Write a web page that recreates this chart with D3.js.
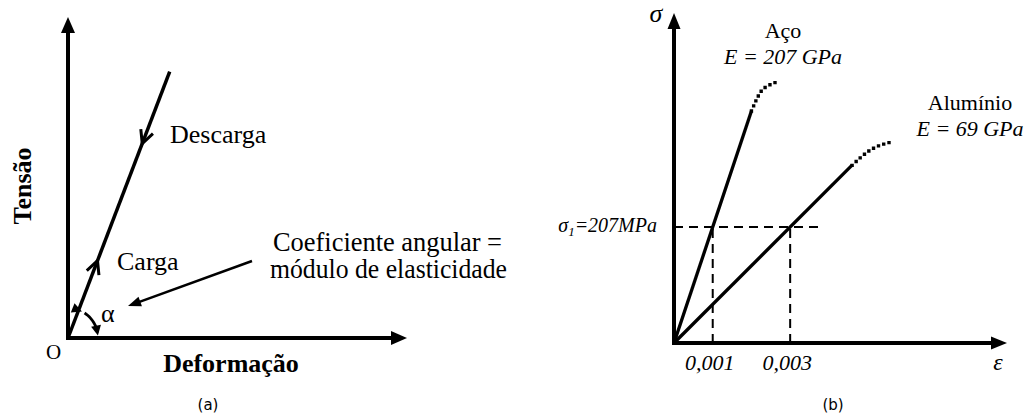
<!DOCTYPE html>
<html>
<head>
<meta charset="utf-8">
<script src="https://cdn.jsdelivr.net/npm/d3@7"></script>
<style>
  html, body { margin: 0; padding: 0; background: #fff; }
  svg { display: block; }
  text { fill: #000; }
</style>
</head>
<body>
<svg id="chart" width="1027" height="414"></svg>
<script>
// ---- Panel (a): loading / unloading along the elastic line (conceptual, unit domain)
const elasticLineA = [[0, 0], [0.30, 0.83]];        // strain, stress (normalised)
const loadArrowAt = 0.29;                            // fraction along the line, pointing up
const unloadArrowAt = 0.73;                          // fraction along the line, pointing down
const labelsA = { load: "Carga", unload: "Descarga", yTitle: "Tensão", xTitle: "Deformação",
                  slope1: "Coeficiente angular =", slope2: "módulo de elasticidade",
                  origin: "O", angle: "α", caption: "(a)" };

// ---- Panel (b): steel vs aluminium, stress in MPa against strain
const moduli = [207, 69];                            // GPa
const materials = ["Aço", "Alumínio"];
const linearStrain = [[0, 0.0020], [0, 0.0046]];     // end of the linear region
const steelPlastic = [[0.00200, 414], [0.00227, 451], [0.00243, 459], [0.00266, 466]];
const alumPlastic  = [[0.00460, 317], [0.00506, 344], [0.00563, 359]];
const sigma1 = 207;                                  // MPa
const strainTicks = [0.001, 0.003];
const strainTickLabels = ["0,001", "0,003"];
const maxStrainDash = 0.00377;

const svg = d3.select("#chart");
const serif = "'Liberation Serif', 'Times New Roman', serif";

function triangle(g, tip, dir, len, half) {
  // filled arrowhead with its tip at `tip`, pointing along unit vector `dir`
  const [dx, dy] = dir, px = -dy, py = dx;
  const bx = tip[0] - dx * len, by = tip[1] - dy * len;
  g.append("path")
    .attr("d", `M${tip[0]},${tip[1]}L${bx + px * half},${by + py * half}L${bx - px * half},${by - py * half}Z`)
    .attr("fill", "#000");
}

// ================= Panel (a) =================
const xA = d3.scaleLinear().domain([0, 1]).range([68, 407]);
const yA = d3.scaleLinear().domain([0, 1]).range([338, 17]);
const gA = svg.append("g");

// axes
gA.append("line").attr("x1", xA(0)).attr("y1", yA(0)).attr("x2", xA(0)).attr("y2", yA(1) + 12)
  .attr("stroke", "#000").attr("stroke-width", 4);
gA.append("line").attr("x1", xA(0) - 2).attr("y1", yA(0)).attr("x2", xA(1) - 12).attr("y2", yA(0))
  .attr("stroke", "#000").attr("stroke-width", 4);
triangle(gA, [xA(0), yA(1)], [0, -1], 16, 7);
triangle(gA, [xA(1), yA(0)], [1, 0], 16, 7);

// elastic line
const lineA = d3.line().x(d => xA(d[0])).y(d => yA(d[1]));
gA.append("path").attr("d", lineA(elasticLineA)).attr("fill", "none")
  .attr("stroke", "#000").attr("stroke-width", 3.5);

// chevrons on the line
const p0 = [xA(elasticLineA[0][0]), yA(elasticLineA[0][1])];
const p1 = [xA(elasticLineA[1][0]), yA(elasticLineA[1][1])];
const L = Math.hypot(p1[0] - p0[0], p1[1] - p0[1]);
const u = [(p1[0] - p0[0]) / L, (p1[1] - p0[1]) / L];
function chevron(t, sign) {
  const tip = [p0[0] + (p1[0] - p0[0]) * t, p0[1] + (p1[1] - p0[1]) * t];
  const d = [u[0] * sign, u[1] * sign], n = [-d[1], d[0]];
  const back = 13, half = 6.5;
  const a = [tip[0] - d[0] * back + n[0] * half, tip[1] - d[1] * back + n[1] * half];
  const b = [tip[0] - d[0] * back - n[0] * half, tip[1] - d[1] * back - n[1] * half];
  gA.append("path").attr("d", `M${a}L${tip}L${b}`).attr("fill", "none")
    .attr("stroke", "#000").attr("stroke-width", 3).attr("stroke-linejoin", "miter");
}
chevron(loadArrowAt, 1);
chevron(unloadArrowAt, -1);

// angle arc with arrowheads at both ends
const lineAngle = Math.atan2(p0[1] - p1[1], p1[0] - p0[0]);
const r = 30, a0 = lineAngle - 0.12, a1 = 0.08;
const arcPt = a => [p0[0] + r * Math.cos(a), p0[1] - r * Math.sin(a)];
const arcPts = d3.range(0, 1.0001, 0.05).map(k => arcPt(a0 + (a1 - a0) * k));
gA.append("path").attr("d", d3.line()(arcPts.slice(2, -2))).attr("fill", "none")
  .attr("stroke", "#000").attr("stroke-width", 2.8);
const arcS0 = arcPt(a0), arcS1 = arcPt(a0 + 0.22);
let dv = [arcS0[0] - arcS1[0], arcS0[1] - arcS1[1]], dl = Math.hypot(dv[0], dv[1]);
triangle(gA, arcS0, [dv[0] / dl, dv[1] / dl], 10, 5);
const arcE0 = arcPt(a1), arcE1 = arcPt(a1 + 0.22);
dv = [arcE0[0] - arcE1[0], arcE0[1] - arcE1[1]]; dl = Math.hypot(dv[0], dv[1]);
triangle(gA, arcE0, [dv[0] / dl, dv[1] / dl], 10, 5);

// pointer arrow to the angle
const ptrFrom = [252, 261], ptrTo = [128, 306];
const pl = Math.hypot(ptrTo[0] - ptrFrom[0], ptrTo[1] - ptrFrom[1]);
const pu = [(ptrTo[0] - ptrFrom[0]) / pl, (ptrTo[1] - ptrFrom[1]) / pl];
gA.append("line").attr("x1", ptrFrom[0]).attr("y1", ptrFrom[1])
  .attr("x2", ptrTo[0] - pu[0] * 10).attr("y2", ptrTo[1] - pu[1] * 10)
  .attr("stroke", "#000").attr("stroke-width", 2.5);
triangle(gA, ptrTo, pu, 13, 5);

// texts of panel (a)
gA.append("text").attr("x", 170).attr("y", 143).attr("font-family", serif).attr("font-size", 26).text(labelsA.unload);
gA.append("text").attr("x", 117).attr("y", 270).attr("font-family", serif).attr("font-size", 26).text(labelsA.load);
gA.append("text").attr("x", 273).attr("y", 251).attr("font-family", serif).attr("font-size", 27)
  .attr("textLength", 229).attr("lengthAdjust", "spacingAndGlyphs").text(labelsA.slope1);
gA.append("text").attr("x", 270).attr("y", 278).attr("font-family", serif).attr("font-size", 27)
  .attr("textLength", 237).attr("lengthAdjust", "spacingAndGlyphs").text(labelsA.slope2);
gA.append("text").attr("x", 101).attr("y", 322).attr("font-family", serif).attr("font-size", 26).text(labelsA.angle);
gA.append("text").attr("x", 46).attr("y", 359).attr("font-family", serif).attr("font-size", 21).text(labelsA.origin);
gA.append("text").attr("x", 231).attr("y", 372).attr("text-anchor", "middle").attr("font-family", serif)
  .attr("font-size", 26).attr("font-weight", "bold").text(labelsA.xTitle);
gA.append("text").attr("transform", "translate(31,186) rotate(-90)").attr("text-anchor", "middle")
  .attr("font-family", serif).attr("font-size", 26).attr("font-weight", "bold").text(labelsA.yTitle);
gA.append("text").attr("x", 208).attr("y", 410).attr("text-anchor", "middle")
  .attr("font-family", "'DejaVu Sans', sans-serif").attr("font-size", 15).text(labelsA.caption);

// ================= Panel (b) =================
const xB = d3.scaleLinear().domain([0, 0.0086]).range([674, 1007]);
const yB = d3.scaleLinear().domain([0, 589]).range([343, 13]);
const gB = svg.append("g");
const lineB = d3.line().x(d => xB(d[0])).y(d => yB(d[1]));
const curveB = d3.line().x(d => xB(d[0])).y(d => yB(d[1])).curve(d3.curveMonotoneX);

// dashed guides at sigma1
gB.append("line").attr("x1", xB(0)).attr("x2", xB(maxStrainDash)).attr("y1", yB(sigma1)).attr("y2", yB(sigma1))
  .attr("stroke", "#000").attr("stroke-width", 2).attr("stroke-dasharray", "9,6");
gB.selectAll("line.vguide").data(strainTicks).enter().append("line").attr("class", "vguide")
  .attr("x1", d => xB(d)).attr("x2", d => xB(d)).attr("y1", yB(0)).attr("y2", yB(sigma1))
  .attr("stroke", "#000").attr("stroke-width", 2).attr("stroke-dasharray", "9,6");

// linear (elastic) segments: stress = E * strain
moduli.forEach((E, i) => {
  const pts = linearStrain[i].map(e => [e, E * 1000 * e]);
  gB.append("path").attr("d", lineB(pts)).attr("fill", "none")
    .attr("stroke", "#000").attr("stroke-width", 3.3);
});
// dotted continuations
[steelPlastic, alumPlastic].forEach(pts => {
  gB.append("path").attr("d", curveB(pts)).attr("fill", "none")
    .attr("stroke", "#000").attr("stroke-width", 3.4).attr("stroke-linecap", "square")
    .attr("stroke-dasharray", "0,5.5");
});

// axes
gB.append("line").attr("x1", xB(0)).attr("y1", yB(0) + 2).attr("x2", xB(0)).attr("y2", yB(589) + 12)
  .attr("stroke", "#000").attr("stroke-width", 4);
gB.append("line").attr("x1", xB(0) - 2).attr("y1", yB(0)).attr("x2", xB(0.0086) - 12).attr("y2", yB(0))
  .attr("stroke", "#000").attr("stroke-width", 4);
triangle(gB, [xB(0), yB(589)], [0, -1], 16, 6.5);
triangle(gB, [xB(0.0086), yB(0)], [1, 0], 16, 6.5);

// tick labels and axis symbols
gB.selectAll("text.tick").data(strainTicks).enter().append("text").attr("class", "tick")
  .attr("x", d => xB(d) - 3).attr("y", 370).attr("text-anchor", "middle")
  .attr("font-family", serif).attr("font-style", "italic").attr("font-size", 22)
  .text((d, i) => strainTickLabels[i]);
gB.append("text").attr("x", 998).attr("y", 370).attr("text-anchor", "middle")
  .attr("font-family", serif).attr("font-style", "italic").attr("font-size", 24).text("ε");
gB.append("text").attr("x", 656).attr("y", 22).attr("text-anchor", "middle")
  .attr("font-family", serif).attr("font-style", "italic").attr("font-size", 26).text("σ");

const sigmaLabel = gB.append("text").attr("x", 657).attr("y", yB(sigma1) + 5).attr("text-anchor", "end")
  .attr("font-family", serif).attr("font-style", "italic").attr("font-size", 20);
sigmaLabel.append("tspan").text("σ");
sigmaLabel.append("tspan").attr("font-size", 13).attr("dy", 4).text("1");
sigmaLabel.append("tspan").attr("dy", -4).text("=" + sigma1 + "MPa");

// material labels
gB.append("text").attr("x", 783).attr("y", 38).attr("text-anchor", "middle")
  .attr("font-family", serif).attr("font-size", 22).text(materials[0]);
gB.append("text").attr("x", 783).attr("y", 64).attr("text-anchor", "middle")
  .attr("font-family", serif).attr("font-style", "italic").attr("font-size", 22).text("E = " + moduli[0] + " GPa");
gB.append("text").attr("x", 970).attr("y", 110).attr("text-anchor", "middle")
  .attr("font-family", serif).attr("font-size", 22).text(materials[1]);
gB.append("text").attr("x", 970).attr("y", 136).attr("text-anchor", "middle")
  .attr("font-family", serif).attr("font-style", "italic").attr("font-size", 22).text("E = " + moduli[1] + " GPa");

gB.append("text").attr("x", 833).attr("y", 410).attr("text-anchor", "middle")
  .attr("font-family", "'DejaVu Sans', sans-serif").attr("font-size", 15).text("(b)");
</script>
</body>
</html>
